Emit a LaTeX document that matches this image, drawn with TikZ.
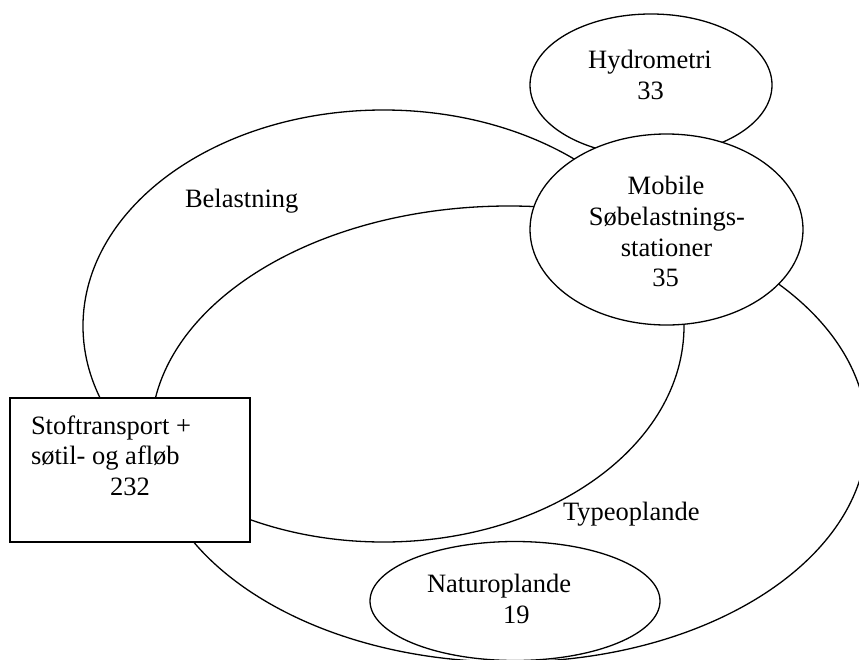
\documentclass[tikz,border=0pt]{standalone}
\usepackage{fontspec}
\setmainfont{Liberation Serif}
\usetikzlibrary{shapes.geometric}
\begin{document}
\begin{tikzpicture}[x=1pt,y=-1pt,line width=1.3pt,
  bigoval/.style={draw, ellipse, inner sep=0pt, outer sep=0pt},
  oval/.style={draw, ellipse, fill=white, inner sep=0pt, outer sep=0pt},
  box/.style={draw, rectangle, fill=white, inner sep=0pt, outer sep=0pt},
  txt/.style={inner sep=0pt, outer sep=0pt, font=\fontsize{26.5}{31}\selectfont}]
\fill[white] (0,0) rectangle (859,659);
\useasboundingbox (0,0) rectangle (859,659);
\begin{scope}
\clip (0,0) rectangle (859,659);
% two overlapping regions
\node[bigoval, minimum width=601pt, minimum height=432pt] (belast) at (383.5,326) {};
\node[bigoval, minimum width=716pt, minimum height=456pt] (typeo) at (509,434) {};
% small ellipses and box
\node[oval, minimum width=242pt, minimum height=142pt] (hydro) at (651,85) {};
\node[oval, minimum width=273pt, minimum height=191pt] (mobile) at (666.5,229.5) {};
\node[box, minimum width=240pt, minimum height=144pt] (stof) at (130,470) {};
\node[oval, minimum width=290pt, minimum height=119pt] (natur) at (515,601) {};
\end{scope}
% texts
\node[txt, anchor=base] (hydroA) at (650,68) {Hydrometri};
\node[txt, anchor=base] (hydroB) at (650.5,99) {33};
\node[txt, anchor=base] (mobA) at (666,194) {Mobile};
\node[txt, anchor=base] (mobB) at (667,225) {Søbelastnings-};
\node[txt, anchor=base] (mobC) at (666.5,256) {stationer};
\node[txt, anchor=base] (mobD) at (665.5,286) {35};
\node[txt, anchor=base west] (belastT) at (185,207) {Belastning};
\node[txt, anchor=base west] (typeoT) at (563,520) {Typeoplande};
\node[txt, anchor=base west] (naturA) at (427,592) {Naturoplande};
\node[txt, anchor=base west] (naturB) at (503,623) {19};
\node[txt, anchor=base west] (stofA) at (31,434) {Stoftransport +};
\node[txt, anchor=base west] (stofB) at (31,464) {søtil- og afløb};
\node[txt, anchor=base west] (stofC) at (110,495) {232};
\end{tikzpicture}
\end{document}
